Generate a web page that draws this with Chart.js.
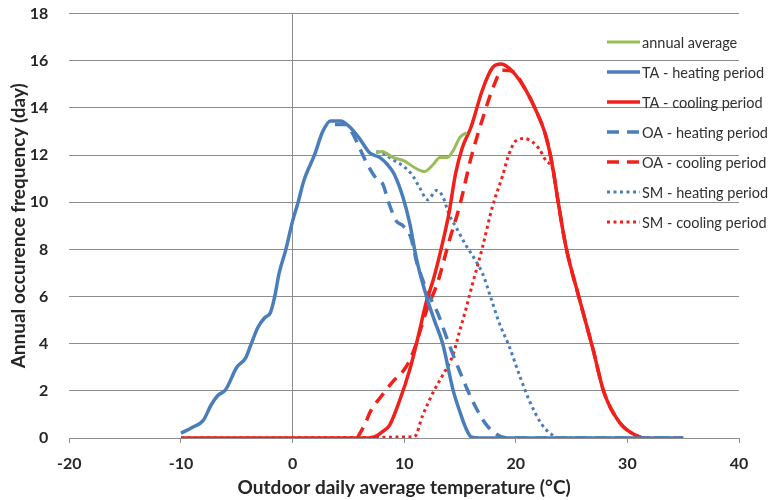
<!DOCTYPE html>
<html>
<head>
<meta charset="utf-8">
<script src="https://cdn.jsdelivr.net/npm/chart.js@4.4.1/dist/chart.umd.min.js"></script>
<style>
  html, body { margin: 0; padding: 0; background: #fff; }
  #wrap { width: 772px; height: 500px; }
</style>
</head>
<body>
<div id="wrap"><canvas id="chart"></canvas></div>
<script>
// values: temperature (degC) and frequency (day)
var annualT = [7.5, 8, 9, 10, 11, 11.8, 12.6, 13.2, 13.9, 14.4, 15, 15.6];
var annualF = [12.1, 12.15, 11.9, 11.75, 11.45, 11.3, 11.6, 11.9, 11.9, 12.2, 12.75, 12.95];

var taHeatT = [-10, -9, -8, -7.3, -6.7, -6, -5, -4.2, -3.7, -3.1, -2.5, -2, -1.6, -1.2, -0.6, 0, 0.5, 1, 2, 2.7, 3.4, 4.3, 5.1, 6, 6.9, 7.8, 8.5, 9.1, 9.9, 10.5, 11.1, 12, 12.7, 13.45, 14.4, 15, 15.5, 16, 17, 35];
var taHeatF = [0.2, 0.45, 0.75, 1.4, 1.8, 2.05, 3.0, 3.4, 4.0, 4.7, 5.1, 5.3, 6.0, 7.0, 8.0, 9.2, 10.0, 10.9, 12.05, 13.0, 13.45, 13.45, 13.2, 12.7, 12.1, 11.9, 11.6, 11.2, 10.2, 9.1, 7.6, 6.0, 5.0, 4.0, 2.0, 1.1, 0.45, 0.05, 0, 0];

var taCoolT = [-10, 6.8, 7.5, 8, 8.7, 9.6, 10.5, 11.2, 12, 12.6, 13.2, 14, 14.6, 15.2, 16, 17, 17.9, 18.7, 19.7, 20.9, 21.8, 22.7, 23.3, 23.8, 24.5, 25.7, 26.9, 27.9, 29.3, 30.8, 31.4];
var taCoolF = [0, 0, 0.08, 0.25, 0.55, 1.6, 2.9, 4.2, 5.8, 6.7, 7.8, 9.5, 11.2, 12.3, 13.2, 14.75, 15.7, 15.86, 15.55, 14.75, 13.9, 12.8, 11.5, 10.0, 8.1, 5.9, 3.8, 1.94, 0.66, 0.1, 0];

var oaHeatT = [3.8, 4.7, 5.4, 6.0, 6.6, 7.5, 8.1, 8.6, 9.3, 9.9, 10.6, 11.1, 12.0, 13.0, 14.0, 15.0, 16.1, 17.3, 18.3, 19.2, 35];
var oaHeatF = [13.3, 13.3, 12.9, 12.3, 11.7, 11.0, 10.75, 10.0, 9.2, 9.0, 8.5, 7.5, 6.3, 5.3, 4.0, 2.8, 1.6, 0.6, 0.15, 0, 0];

var oaCoolT = [5.8, 6.5, 7, 8, 9, 10, 10.5, 11, 12, 13, 14, 15, 16, 17, 18, 18.8, 19.7, 20.9, 21.8, 22.7, 23.3, 23.8, 24.5, 25.7, 26.9, 27.9, 29.3, 30.8, 31.4];
var oaCoolF = [0, 0.6, 1.15, 1.8, 2.4, 2.9, 3.3, 3.9, 5.4, 6.6, 8.3, 9.9, 11.9, 13.5, 14.9, 15.6, 15.55, 14.75, 13.9, 12.8, 11.5, 10.0, 8.1, 5.9, 3.8, 1.94, 0.66, 0.1, 0];

var smHeatT = [7.5, 8, 9, 10, 10.8, 11.4, 12.1, 12.9, 13.5, 14, 14.7, 15.5, 16.3, 17, 17.8, 18.5, 19.4, 20.3, 21.2, 22.3, 23.2, 24, 35];
var smHeatF = [12.15, 12.1, 11.8, 11.5, 11.1, 10.6, 10.1, 10.5, 10.2, 9.5, 8.9, 8.2, 7.6, 7.0, 5.9, 4.9, 3.9, 2.7, 1.6, 0.6, 0.15, 0, 0];

var smCoolT = [-10, 10.9, 11.65, 12.6, 13.45, 14.35, 14.95, 15.55, 16.1, 17, 17.9, 18.8, 19.4, 20, 20.8, 21.5, 22.1, 22.7, 23.3, 23.8, 24.5, 25.7, 26.9, 27.9, 29.3, 30.8, 31.4, 35];
var smCoolF = [0, 0.05, 0.95, 1.94, 2.66, 3.5, 4.5, 5.5, 6.5, 8.06, 9.8, 11.1, 12.05, 12.6, 12.7, 12.55, 12.26, 11.76, 11.4, 10.0, 8.1, 5.9, 3.8, 1.94, 0.66, 0.1, 0, 0];

var BLUE = '#4a7ebb';
var RED = '#f2201b';
var GREEN = '#9bbb59';
var GRID = '#8c8c8c';

function pts(t, f) {
  return t.map(function (v, i) { return { x: v, y: f[i] }; });
}

function series(label, t, f, color, width, dash) {
  return {
    label: label,
    data: pts(t, f),
    borderColor: color,
    backgroundColor: color,
    borderWidth: width,
    borderDash: dash,
    showLine: true,
    pointRadius: 0,
    pointHoverRadius: 0,
    cubicInterpolationMode: 'monotone'
  };
}

// legend sits inside the plot on the right, like the original
var insideLegend = {
  id: 'insideLegend',
  afterDraw: function (chart) {
    var ctx = chart.ctx;
    ctx.save();
    ctx.font = '14.5px Lato';
    ctx.textBaseline = 'middle';
    chart.data.datasets.forEach(function (ds, i) {
      var y = 42 + i * 30;
      ctx.strokeStyle = ds.borderColor;
      ctx.lineWidth = ds.borderWidth;
      ctx.setLineDash(ds.borderDash);
      ctx.beginPath();
      ctx.moveTo(607, y);
      ctx.lineTo(640, y);
      ctx.stroke();
      ctx.setLineDash([]);
      ctx.fillStyle = '#303030';
      ctx.fillText(ds.label, 642, y + 1);
    });
    ctx.restore();
  }
};

var ctx = document.getElementById('chart').getContext('2d');
new Chart(ctx, {
  type: 'scatter',
  data: {
    datasets: [
      series('annual average', annualT, annualF, GREEN, 3, []),
      series('TA - heating period', taHeatT, taHeatF, BLUE, 3.5, []),
      series('TA - cooling period', taCoolT, taCoolF, RED, 3.5, []),
      series('OA - heating period', oaHeatT, oaHeatF, BLUE, 3.5, [12, 8]),
      series('OA - cooling period', oaCoolT, oaCoolF, RED, 3.5, [12, 8]),
      series('SM - heating period', smHeatT, smHeatF, BLUE, 3, [3, 3.5]),
      series('SM - cooling period', smCoolT, smCoolF, RED, 3, [3, 3.5])
    ]
  },
  options: {
    responsive: true,
    maintainAspectRatio: false,
    animation: false,
    layout: { padding: { left: 5, right: 33, top: 3, bottom: 1 } },
    plugins: {
      legend: { display: false },
      tooltip: { enabled: false }
    },
    scales: {
      x: {
        type: 'linear',
        min: -20,
        max: 40,
        ticks: { stepSize: 10, padding: 11, color: '#262626', font: { family: 'Lato', size: 16, weight: 'bold' } },
        grid: {
          color: function (c) { return c.tick && c.tick.value === 0 ? GRID : 'rgba(0,0,0,0)'; },
          tickColor: GRID,
          tickLength: 5,
          lineWidth: 1
        },
        border: { display: true, color: GRID },
        title: {
          display: true,
          text: 'Outdoor daily average temperature (°C)',
          color: '#262626',
          font: { family: 'Lato', size: 19, weight: 'bold' },
          padding: { top: -8, bottom: 0 }
        }
      },
      y: {
        min: 0,
        max: 18,
        ticks: { stepSize: 2, padding: 4, color: '#262626', font: { family: 'Lato', size: 16, weight: 'bold' } },
        // invisible tick marks keep the gap between labels and grid
        grid: { color: GRID, lineWidth: 1, drawTicks: true, tickLength: 17, tickColor: 'rgba(0,0,0,0)' },
        border: { display: false },
        title: {
          display: true,
          text: 'Annual occurence frequency (day)',
          color: '#262626',
          font: { family: 'Lato', size: 19, weight: 'bold' },
          padding: { top: 2, bottom: -4 }
        }
      }
    }
  },
  plugins: [insideLegend]
});
</script>
</body>
</html>
